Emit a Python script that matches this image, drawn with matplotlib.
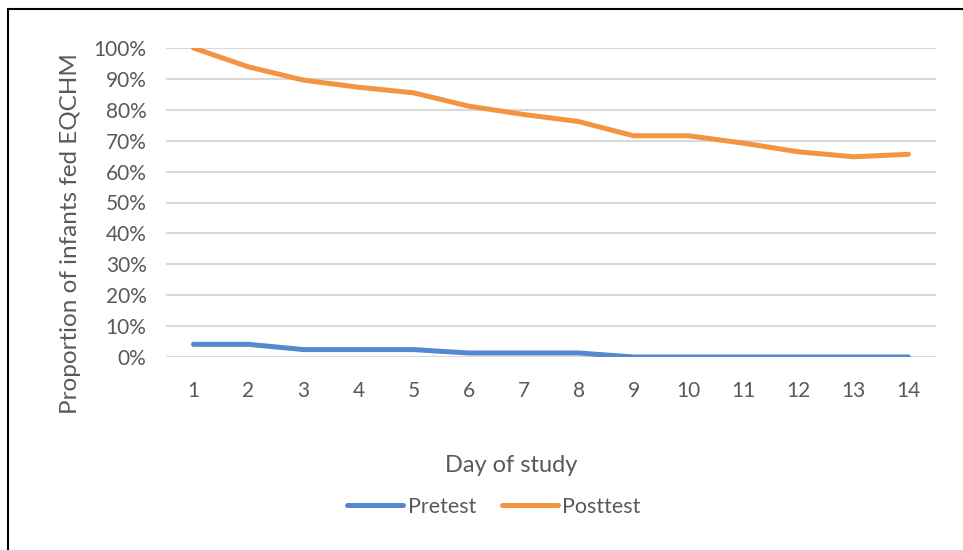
import matplotlib.pyplot as plt
from matplotlib.patches import Rectangle
from matplotlib.ticker import PercentFormatter

# datos
dias = list(range(1, 15))
pretest = [0.041, 0.041, 0.024, 0.024, 0.024, 0.013, 0.013, 0.013, 0.0, 0.0, 0.0, 0.0, 0.0, 0.0]
posttest = [1.0, 0.939, 0.896, 0.873, 0.855, 0.812, 0.785, 0.762, 0.716, 0.716, 0.692, 0.664, 0.648, 0.656]

plt.rcParams['font.family'] = ['Lato', 'DejaVu Sans']
gris = '#595959'

fig = plt.figure(figsize=(9.63, 5.5), dpi=100)
ax = fig.add_axes([166 / 963, 1 - 357 / 550, 770 / 963, 309 / 550])

ax.plot(dias, pretest, color='#5687D1', lw=3.6, solid_capstyle='round', label='Pretest')
ax.plot(dias, posttest, color='#F39441', lw=3.6, solid_capstyle='round', label='Posttest')

ax.set_xlim(0.5, 14.5)
ax.set_ylim(0, 1)
ax.set_xticks(dias)
ax.set_yticks([i / 10 for i in range(11)])
ax.yaxis.set_major_formatter(PercentFormatter(1.0, decimals=0))
ax.grid(axis='y', color='#D9D9D9', lw=1.5)
ax.set_axisbelow(True)
for s in ax.spines.values():
    s.set_visible(False)
ax.tick_params(length=0, labelsize=15, colors=gris)
ax.tick_params(axis='x', pad=17)
ax.tick_params(axis='y', pad=14)

ax.set_ylabel('Proportion of infants fed EQCHM', fontsize=17.5, color=gris, labelpad=9)
ax.yaxis.label.set_y(0.40)
fig.text(511 / 963, 1 - 465 / 550, 'Day of study', fontsize=17, color=gris, ha='center', va='center')

fig.legend(loc='center', bbox_to_anchor=(494 / 963, 1 - 507 / 550), ncol=2, frameon=False,
           fontsize=15.5, labelcolor=gris, handlelength=2.6, handletextpad=0.2, columnspacing=1.2)

# marco del gráfico
fig.patches.append(Rectangle((8 / 963, -0.1), 2, 1.1 - 9 / 550, transform=fig.transFigure,
                             fill=False, edgecolor='black', lw=1.5))

fig.savefig('out.png', dpi=100)
